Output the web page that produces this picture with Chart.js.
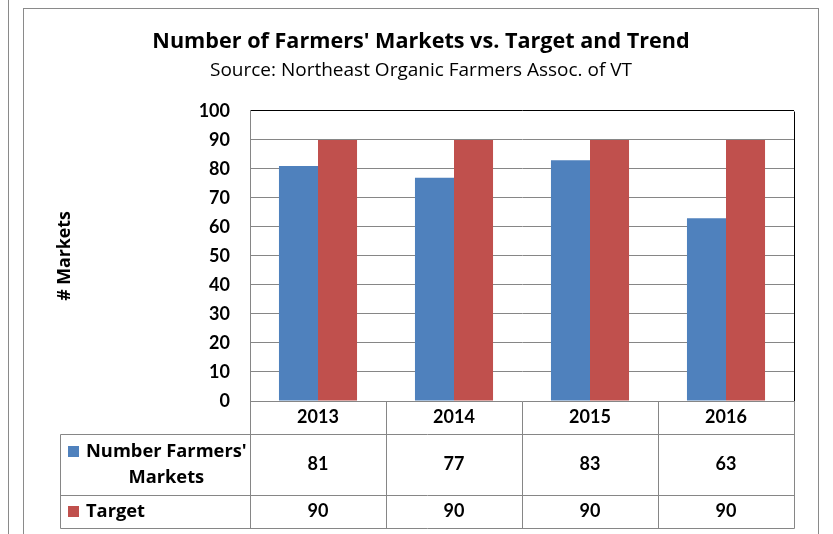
<!DOCTYPE html>
<html><head><meta charset="utf-8">
<script src="https://cdn.jsdelivr.net/npm/chart.js@4"></script>
<style>html,body{margin:0;padding:0;background:#fff;}#wrap{width:833px;height:534px;}</style>
</head><body><div id="wrap"><canvas id="c" width="833" height="534"></canvas></div>
<script>
const years = ['2013', '2014', '2015', '2016'];
const seriesNames = ["Number Farmers' Markets", 'Target'];
const marketCounts = [81, 77, 83, 63];
const targetValues = [90, 90, 90, 90];
const seriesColors = ['#4F81BD', '#C0504D'];
const yTickStep = 10;
const yMin = 0, yMax = 100;
const chartTitle = "Number of Farmers' Markets vs. Target and Trend";
const chartSubtitle = 'Source: Northeast Organic Farmers Assoc. of VT';
const yAxisTitle = '# Markets';

const NUMFONT = 'Lato';
const TXTFONT = '"Open Sans"';
const GRID = '#868686';

const framePlugin = {
  id: 'frame',
  beforeDraw(chart) {
    const ctx = chart.ctx;
    ctx.save();
    ctx.fillStyle = '#fff';
    ctx.fillRect(0, 0, chart.width, chart.height);
    ctx.strokeStyle = '#8a8a8a';
    ctx.lineWidth = 1;
    ctx.beginPath();
    ctx.moveTo(8.5, 0); ctx.lineTo(8.5, chart.height);
    ctx.stroke();
    ctx.strokeRect(23.5, 8.5, 795, 700);
    ctx.restore();
  }
};

function wrapText(ctx, text, maxW) {
  const words = text.split(' ');
  const lines = [];
  let cur = '';
  for (const w of words) {
    const t = cur ? cur + ' ' + w : w;
    if (ctx.measureText(t).width > maxW && cur) { lines.push(cur); cur = w; }
    else cur = t;
  }
  if (cur) lines.push(cur);
  return lines;
}

const tablePlugin = {
  id: 'dataTable',
  afterDraw(chart) {
    const ctx = chart.ctx;
    const ca = chart.chartArea;
    const xs = chart.scales.x;
    const n = chart.data.labels.length;
    const step = xs.getPixelForValue(1) - xs.getPixelForValue(0);
    const rows = [ca.bottom, ca.bottom + 33, ca.bottom + 94, ca.bottom + 127];
    const tableLeft = 60;
    const px = v => Math.round(v) + 0.5;
    ctx.save();
    ctx.strokeStyle = '#000';
    ctx.lineWidth = 1;
    ctx.beginPath();
    ctx.moveTo(px(ca.right), px(ca.top)); ctx.lineTo(px(ca.right), px(ca.bottom));
    ctx.stroke();
    ctx.strokeStyle = GRID;
    ctx.beginPath();
    for (let i = 0; i <= n; i++) {
      const x = px(xs.getPixelForValue(i) - step / 2);
      ctx.moveTo(x, px(rows[0])); ctx.lineTo(x, px(rows[3]));
    }
    for (let r = 1; r <= 3; r++) {
      ctx.moveTo(px(tableLeft), px(rows[r])); ctx.lineTo(px(ca.right), px(rows[r]));
    }
    ctx.moveTo(px(tableLeft), px(rows[1])); ctx.lineTo(px(tableLeft), px(rows[3]));
    ctx.stroke();
    ctx.fillStyle = '#000';
    ctx.font = 'bold 18px ' + NUMFONT;
    ctx.textAlign = 'center';
    ctx.textBaseline = 'middle';
    chart.data.labels.forEach((lab, i) => {
      ctx.fillText(lab, xs.getPixelForValue(i), (rows[0] + rows[1]) / 2);
    });
    chart.data.datasets.forEach((ds, d) => {
      const yc = (rows[d + 1] + rows[d + 2]) / 2;
      ctx.font = 'bold 18px ' + NUMFONT;
      ds.data.forEach((v, i) => {
        ctx.fillText(String(v), xs.getPixelForValue(i), yc);
      });
      ctx.font = 'bold 18.3px ' + TXTFONT;
      const lines = wrapText(ctx, ds.label, 165);
      const lh = 26;
      const blockW = Math.max(...lines.map(l => ctx.measureText(l).width));
      const textLeft = 86;
      const y0 = yc - (lines.length - 1) * lh / 2;
      ctx.fillStyle = ds.backgroundColor;
      ctx.fillRect(68, Math.round(y0 - 5.5), 11, 11);
      ctx.fillStyle = '#000';
      lines.forEach((l, k) => {
        ctx.fillText(l, textLeft + blockW / 2, y0 + k * lh);
      });
    });
    ctx.restore();
  }
};

new Chart(document.getElementById('c'), {
  type: 'bar',
  data: {
    labels: years,
    datasets: [
      { label: seriesNames[0], data: marketCounts, backgroundColor: seriesColors[0], borderWidth: 0,
        categoryPercentage: 0.574, barPercentage: 1.0 },
      { label: seriesNames[1], data: targetValues, backgroundColor: seriesColors[1], borderWidth: 0,
        categoryPercentage: 0.574, barPercentage: 1.0 }
    ]
  },
  options: {
    responsive: false,
    animation: false,
    layout: { padding: { left: 48, right: 39, top: 0, bottom: 0 } },
    plugins: {
      legend: { display: false },
      tooltip: { enabled: false },
      title: { display: true, text: chartTitle, color: '#000',
        font: { family: TXTFONT, size: 21.6, weight: 'bold' }, padding: { top: 29, bottom: 4 } },
      subtitle: { display: true, text: chartSubtitle, color: '#000',
        font: { family: TXTFONT, size: 19, weight: 'normal' }, padding: { top: 0.6, bottom: 28.6 } }
    },
    scales: {
      x: {
        ticks: { display: false },
        grid: { display: false },
        border: { display: false },
        afterFit(s) { s.height = 133; }
      },
      y: {
        min: yMin, max: yMax,
        ticks: { stepSize: yTickStep, color: '#000', padding: 20,
          font: { family: NUMFONT, size: 18, weight: 'bold' } },
        grid: { color: c => (c.tick && c.tick.value === yMax) ? '#000' : GRID, drawTicks: false, lineWidth: 1 },
        border: { color: GRID, width: 1 },
        title: { display: true, text: yAxisTitle, color: '#000',
          font: { family: TXTFONT, size: 17.8, weight: 'bold' }, padding: { top: 6, bottom: 0 } },
        afterFit(s) { s.width = 202; }
      }
    }
  },
  plugins: [framePlugin, tablePlugin]
});
</script>
</body></html>
